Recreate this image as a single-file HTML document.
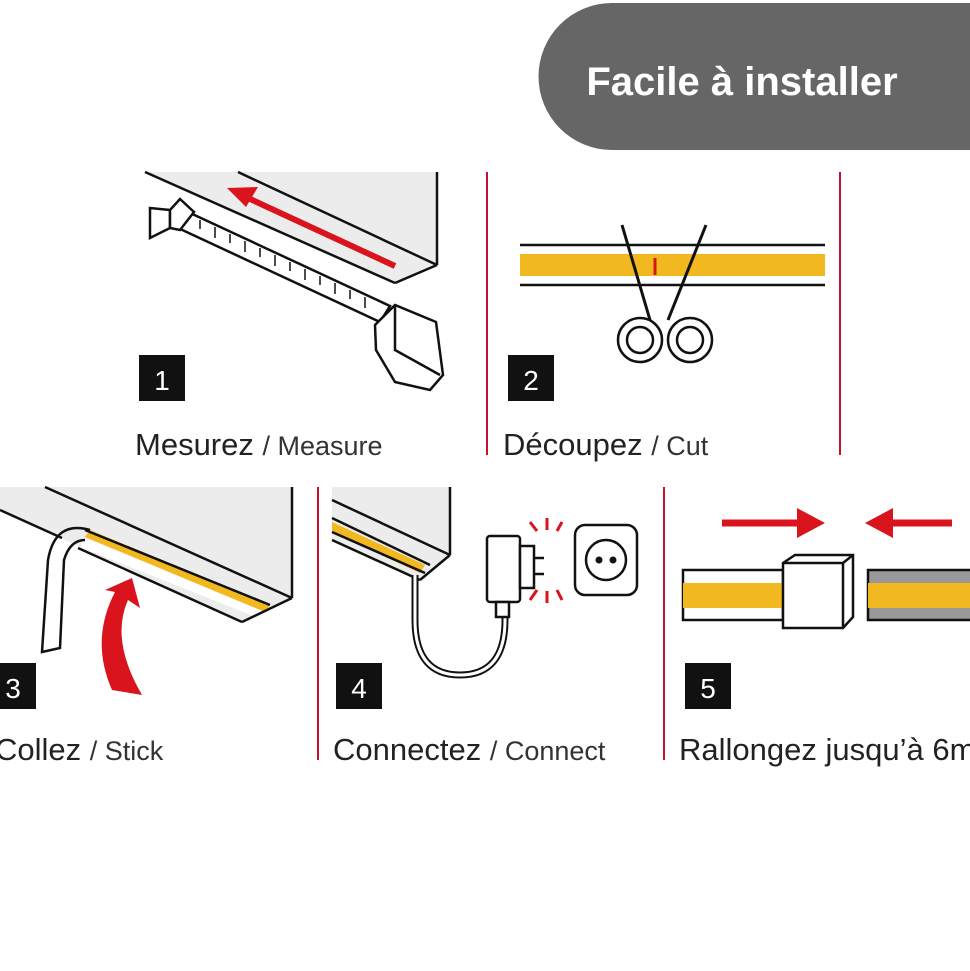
<!DOCTYPE html>
<html><head><meta charset="utf-8"><style>
html,body{margin:0;padding:0;background:#fff;}
svg{display:block;}
text{font-family:"Liberation Sans",Arial,sans-serif;}
</style></head><body>
<svg width="970" height="971" viewBox="0 0 970 971" xmlns="http://www.w3.org/2000/svg">
<rect width="970" height="971" fill="#fff"/>
<path d="M612,3 H980 V150 H612 A73.5,73.5 0 0 1 612,3 Z" fill="#666"/>
<text x="742" y="95" font-size="40" font-weight="bold" fill="#fff" text-anchor="middle">Facile à installer</text>

<g stroke="#c8102e" stroke-width="2">
<line x1="487" y1="172" x2="487" y2="455"/>
<line x1="840" y1="172" x2="840" y2="455"/>
<line x1="318" y1="487" x2="318" y2="760"/>
<line x1="664" y1="487" x2="664" y2="760"/>
</g>

<!-- panel 1 -->
<polygon points="145,172 437,172 437,265 395,283" fill="#ececec"/>
<g stroke="#111" stroke-width="2.5" fill="none">
<line x1="145" y1="172" x2="395" y2="283"/>
<line x1="238" y1="172" x2="437" y2="265"/>
<line x1="437" y1="172" x2="437" y2="265"/>
<line x1="437" y1="265" x2="395" y2="283"/>
<polygon points="188,212 390,306 380,322 178,228" fill="#fff"/>
<polygon points="150,222 150,238 170,228 170,210 150,208" fill="#fff"/>
<polygon points="170,210 180,199 194,212 180,230 170,228" fill="#fff"/>
<polygon points="375,325 395,305 436,322 443,375 430,390 395,382 376,350" fill="#fff"/>
<path d="M395,305 V350 L440,375"/>
</g>
<g stroke="#111" stroke-width="1.5">
<line x1="200" y1="220" x2="200" y2="229"/><line x1="215" y1="227" x2="215" y2="238"/><line x1="230" y1="234" x2="230" y2="243"/>
<line x1="245" y1="241" x2="245" y2="252"/><line x1="260" y1="248" x2="260" y2="257"/><line x1="275" y1="255" x2="275" y2="266"/>
<line x1="290" y1="262" x2="290" y2="271"/><line x1="305" y1="269" x2="305" y2="280"/><line x1="320" y1="276" x2="320" y2="285"/>
<line x1="335" y1="283" x2="335" y2="294"/><line x1="350" y1="290" x2="350" y2="299"/><line x1="365" y1="297" x2="365" y2="308"/>
</g>
<line x1="395" y1="266" x2="248" y2="198" stroke="#d9141c" stroke-width="6"/>
<polygon points="227,188 258,187 246,207" fill="#d9141c"/>
<rect x="139" y="355" width="46" height="46" fill="#111"/>
<text x="162" y="390" font-size="28" fill="#fff" text-anchor="middle">1</text>
<text x="135" y="455" font-size="31" fill="#222">Mesurez <tspan font-size="27" fill="#333">/ Measure</tspan></text>

<!-- panel 2 -->
<rect x="520" y="254" width="305" height="22" fill="#f2b81f"/>
<g stroke="#111" stroke-width="2.5" fill="none">
<line x1="520" y1="245" x2="825" y2="245"/>
<line x1="520" y1="285" x2="825" y2="285"/>
<path d="M622,225 L650,320 M706,225 L668,320" stroke-width="3"/>
<circle cx="640" cy="340" r="22" fill="#fff"/><circle cx="640" cy="340" r="13"/>
<circle cx="690" cy="340" r="22" fill="#fff"/><circle cx="690" cy="340" r="13"/>
</g>
<line x1="655" y1="258" x2="655" y2="275" stroke="#d9141c" stroke-width="3"/>
<rect x="508" y="355" width="46" height="46" fill="#111"/>
<text x="531" y="390" font-size="28" fill="#fff" text-anchor="middle">2</text>
<text x="503" y="455" font-size="31" fill="#222">Découpez <tspan font-size="27" fill="#333">/ Cut</tspan></text>

<!-- panel 3 -->
<polygon points="0,487 292,487 292,598 242,622 0,510" fill="#ececec"/>
<polygon points="85,538 265,610 258,618 80,547" fill="#fff"/>
<polygon points="90,530 270,605 265,612 85,537" fill="#f2b81f"/>
<g stroke="#111" stroke-width="2.5" fill="none">
<line x1="45" y1="487" x2="292" y2="598"/>
<line x1="292" y1="487" x2="292" y2="598"/>
<line x1="292" y1="598" x2="242" y2="622"/>
<line x1="0" y1="510" x2="62" y2="538"/>
<line x1="78" y1="548" x2="242" y2="622"/>
<line x1="85" y1="530" x2="270" y2="605"/>
<path d="M90,530 Q55,520 48,560 L42,652 L60,648 L64,560 Q70,540 85,540"/>
</g>
<path d="M112,690 Q90,640 115,592 L105,590 L132,578 L140,608 L128,600 Q110,640 142,695 Z" fill="#d9141c"/>
<rect x="-10" y="663" width="46" height="46" fill="#111"/>
<text x="13" y="698" font-size="28" fill="#fff" text-anchor="middle">3</text>
<text x="-5" y="760" font-size="31" fill="#222">Collez <tspan font-size="27" fill="#333">/ Stick</tspan></text>

<!-- panel 4 -->
<polygon points="332,487 450,487 450,555 420,580 332,540" fill="#ececec"/>
<polygon points="332,522 425,565 420,573 332,532" fill="#f2b81f"/>
<g stroke="#111" stroke-width="2.5" fill="none">
<line x1="332" y1="500" x2="450" y2="555"/>
<line x1="450" y1="487" x2="450" y2="555"/>
<line x1="450" y1="555" x2="420" y2="580"/>
<line x1="332" y1="540" x2="420" y2="580"/>
<line x1="332" y1="518" x2="430" y2="565"/>
<line x1="332" y1="532" x2="425" y2="573"/>
<path d="M415,575 V620 Q415,675 460,675 Q505,675 505,620 V613" stroke-width="7"/>
<path d="M415,575 V620 Q415,675 460,675 Q505,675 505,620 V613" stroke="#fff" stroke-width="3"/>
<rect x="487" y="536" width="33" height="66" rx="3" fill="#fff"/>
<rect x="496" y="602" width="13" height="15" fill="#fff"/>
<rect x="520" y="546" width="14" height="42" fill="#fff"/>
<line x1="534" y1="558" x2="544" y2="558"/><line x1="534" y1="574" x2="544" y2="574"/>
<rect x="575" y="525" width="62" height="70" rx="10" fill="#fff"/>
<circle cx="606" cy="560" r="20"/>
</g>
<circle cx="599" cy="560" r="3.5" fill="#111"/><circle cx="613" cy="560" r="3.5" fill="#111"/>
<g stroke="#d9141c" stroke-width="3">
<line x1="530" y1="522" x2="537" y2="531"/><line x1="547" y1="518" x2="547" y2="530"/><line x1="562" y1="522" x2="557" y2="531"/>
<line x1="530" y1="600" x2="537" y2="590"/><line x1="547" y1="603" x2="547" y2="591"/><line x1="562" y1="600" x2="557" y2="590"/>
</g>
<rect x="336" y="663" width="46" height="46" fill="#111"/>
<text x="359" y="698" font-size="28" fill="#fff" text-anchor="middle">4</text>
<text x="333" y="760" font-size="31" fill="#222">Connectez <tspan font-size="27" fill="#333">/ Connect</tspan></text>

<!-- panel 5 -->
<line x1="722" y1="523" x2="800" y2="523" stroke="#d9141c" stroke-width="7"/>
<polygon points="825,523 797,508 797,538" fill="#d9141c"/>
<line x1="952" y1="523" x2="890" y2="523" stroke="#d9141c" stroke-width="7"/>
<polygon points="865,523 893,508 893,538" fill="#d9141c"/>
<rect x="683" y="570" width="100" height="50" fill="#fff" stroke="#111" stroke-width="2.5"/>
<rect x="683" y="583" width="100" height="25" fill="#f2b81f"/>
<rect x="868" y="570" width="110" height="50" fill="#999" stroke="#111" stroke-width="2.5"/>
<rect x="868" y="583" width="110" height="25" fill="#f2b81f"/>
<g stroke="#111" stroke-width="2.5" fill="#fff">
<polygon points="783,563 795,555 853,555 853,617 843,628 783,628"/>
<polyline points="783,563 843,563 843,628" fill="none"/>
<line x1="843" y1="563" x2="853" y2="555"/>
</g>
<rect x="685" y="663" width="46" height="46" fill="#111"/>
<text x="708" y="698" font-size="28" fill="#fff" text-anchor="middle">5</text>
<text x="679" y="760" font-size="31" fill="#222">Rallongez jusqu’à 6m</text>
</svg>
</body></html>
